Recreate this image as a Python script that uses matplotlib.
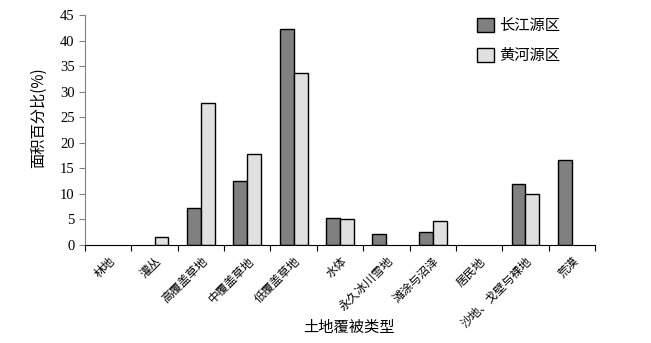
import numpy as np
import matplotlib
matplotlib.use('Agg')
import matplotlib.pyplot as plt

# land cover categories and area share (%) of the two source regions
categories = ['林地', '灌丛', '高覆盖草地', '中覆盖草地', '低覆盖草地', '水体',
              '永久冰川雪地', '滩涂与沼泽', '居民地', '沙地、戈壁与裸地', '荒漠']
changjiang = [0, 0, 7.3, 12.6, 42.2, 5.3, 2.1, 2.6, 0, 12.0, 16.7]
huanghe = [0, 1.6, 27.7, 17.9, 33.6, 5.1, 0, 4.6, 0, 10.0, 0]
series_names = ['长江源区', '黄河源区']

cjk = ['Noto Sans CJK SC', 'DejaVu Sans']
plt.rcParams['font.family'] = ['Liberation Serif', 'Noto Sans CJK SC']

fig = plt.figure(figsize=(6.51, 3.43), dpi=100)
ax = fig.add_axes([0.1306, 0.2857, 0.7834, 0.6706])

x = np.arange(len(categories))
w = 0.3
# zero values draw no bar at all in the reference
cj = np.array(changjiang, dtype=float)
hh = np.array(huanghe, dtype=float)
cj[cj == 0] = np.nan
hh[hh == 0] = np.nan
ax.bar(x - w / 2, cj, w, color='#808080', edgecolor='black', linewidth=1,
       label=series_names[0])
ax.bar(x + w / 2, hh, w, color='#e0e0e0', edgecolor='black', linewidth=1,
       label=series_names[1])

ax.set_xlim(-0.5, len(categories) - 0.5)
ax.set_ylim(0, 45)
ax.set_yticks(np.arange(0, 46, 5))
ax.tick_params(axis='y', labelsize=10.5, direction='out', length=4, color='#808080')

ax.set_xticks(np.arange(-0.5, len(categories) + 0.5, 1))
ax.set_xticklabels([])
ax.set_xticks(x, minor=True)
ax.set_xticklabels(categories, minor=True, rotation=45, ha='right', va='top',
                   rotation_mode='anchor', family=cjk, fontsize=8.5)
ax.tick_params(axis='x', which='major', direction='out', length=4)
ax.tick_params(axis='x', which='minor', length=0, pad=7)

for s in ['top', 'right']:
    ax.spines[s].set_visible(False)
ax.spines['left'].set_color('#808080')
ax.spines['bottom'].set_color('black')

ax.set_ylabel('面积百分比(%)', family=cjk, fontsize=11)
ax.yaxis.set_label_coords(-0.075, 0.552)
fig.text(349 / 651, 1 - 327 / 343, '土地覆被类型', family=cjk, fontsize=11,
         ha='center', va='center')

leg = ax.legend(loc='upper left', bbox_to_anchor=(477 / 651, 1 - 17 / 343),
                bbox_transform=fig.transFigure, frameon=False, borderpad=0,
                borderaxespad=0, prop={'family': cjk, 'size': 11},
                handlelength=1.1, handleheight=1.05, labelspacing=0.85,
                handletextpad=0.35)

fig.savefig('out.png', dpi=100)
